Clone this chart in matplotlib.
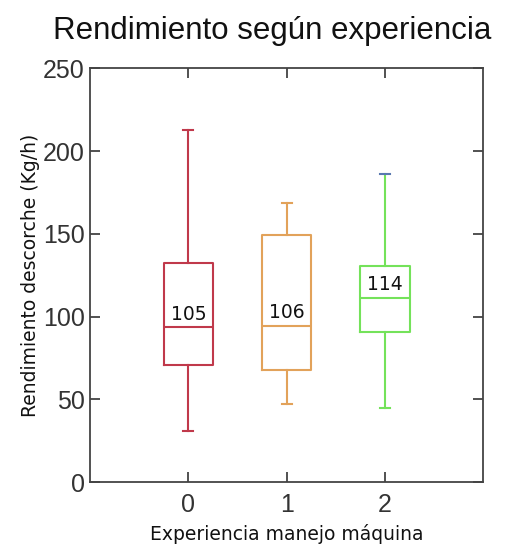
import matplotlib
matplotlib.use("Agg")
import matplotlib.pyplot as plt

categories = ["0", "1", "2"]
whisker_low = [30.7, 47.0, 44.6]
q1 = [70.5, 68.0, 90.4]
medians = [93.4, 94.6, 111.4]
q3 = [132.5, 149.0, 130.7]
whisker_high = [213.0, 168.7, 186.0]
means = [105, 106, 114]
colors = ["#C0394B", "#E2A25A", "#74E25A"]

fig = plt.figure(figsize=(5.06, 5.46), dpi=100)
ax = fig.add_axes([0.178, 0.117, 0.777, 0.758])

stats = []
for i, c in enumerate(categories):
    stats.append(dict(label=c, whislo=whisker_low[i], q1=q1[i], med=medians[i],
                      q3=q3[i], whishi=whisker_high[i], fliers=[]))

positions = list(range(len(categories)))
bp = ax.bxp(stats, positions=positions, widths=0.5, capwidths=0.1,
            showfliers=False, patch_artist=False)
for i, col in enumerate(colors):
    bp["boxes"][i].set_color(col)
    bp["boxes"][i].set_linewidth(1.5)
    bp["medians"][i].set_color(col)
    bp["medians"][i].set_linewidth(1.5)
    for w in bp["whiskers"][2 * i:2 * i + 2]:
        w.set_color(col)
        w.set_linewidth(1.5)
    for cp in bp["caps"][2 * i:2 * i + 2]:
        cp.set_color(col)
        cp.set_linewidth(1.5)
bp["caps"][5].set_color("#5A78B0")

for i, m in enumerate(means):
    ax.text(positions[i], medians[i] + 2, f"{m}", ha="center", va="bottom",
            fontsize=13.5, color="#111111", family="DejaVu Sans")

ax.set_xlim(-1, 3)
ax.set_ylim(0, 250)
ax.set_xticks(positions)
ax.set_xticklabels(categories)
ax.set_yticks([0, 50, 100, 150, 200, 250])
ax.tick_params(direction="in", length=7, width=1.2, top=True, right=True,
               labelsize=18, colors="#333333", pad=4)
ax.tick_params(axis="x", pad=8)
for s in ax.spines.values():
    s.set_color("#444444")
    s.set_linewidth(1.3)

fig.text(272.5 / 506, 1 - 39 / 546, "Rendimiento según experiencia", fontsize=22.5,
         family="Liberation Sans", color="#111111", ha="center", va="baseline")
ax.set_xlabel("Experiencia manejo máquina", fontsize=13.5, family="DejaVu Sans",
              labelpad=5, color="#111111")
ax.set_ylabel("Rendimiento descorche (Kg/h)", fontsize=13.5, family="DejaVu Sans",
              labelpad=2, color="#111111")
for lbl in ax.get_xticklabels() + ax.get_yticklabels():
    lbl.set_family("Liberation Sans")

fig.savefig("out.png", dpi=100)
